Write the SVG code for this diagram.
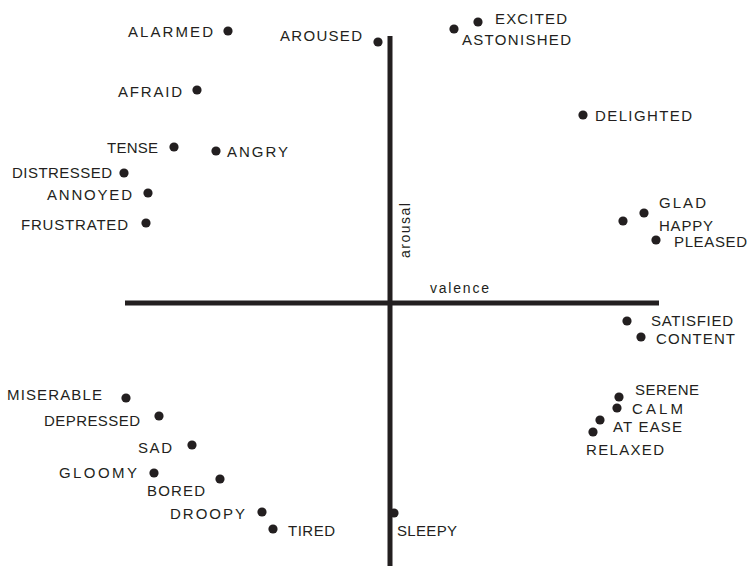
<svg xmlns="http://www.w3.org/2000/svg" width="749" height="566" viewBox="0 0 749 566">
  <style>
    .lbl { font-family: "Liberation Sans", Arial, sans-serif; font-size: 15px; fill: #231f20; }
    .ax-lbl { font-family: "Liberation Sans", Arial, sans-serif; font-size: 14px; fill: #231f20; }
    .dot { fill: #231f20; }
    .axis { stroke: #231f20; stroke-width: 5; fill: none; }
  </style>
  <rect width="749" height="566" fill="#ffffff"/>

  <!-- axes -->
  <g id="axes">
    <line class="axis" x1="390" y1="36" x2="390" y2="566"/>
    <line class="axis" x1="125" y1="303" x2="659" y2="303"/>
    <text class="ax-lbl" x="430" y="293" textLength="59" lengthAdjust="spacing">valence</text>
    <text class="ax-lbl" transform="translate(410 258) rotate(-90)" textLength="55" lengthAdjust="spacing">arousal</text>
  </g>

  <!-- emotion terms -->
  <g id="alarmed"><circle class="dot" cx="228" cy="31" r="4.6"/><text class="lbl" x="128" y="36.5" textLength="85" lengthAdjust="spacing">ALARMED</text></g>
  <g id="aroused"><circle class="dot" cx="378" cy="42" r="4.6"/><text class="lbl" x="280" y="41" textLength="82" lengthAdjust="spacing">AROUSED</text></g>
  <g id="excited"><circle class="dot" cx="478" cy="22" r="4.6"/><text class="lbl" x="495" y="24" textLength="72" lengthAdjust="spacing">EXCITED</text></g>
  <g id="astonished"><circle class="dot" cx="454" cy="29" r="4.6"/><text class="lbl" x="462" y="45" textLength="109" lengthAdjust="spacing">ASTONISHED</text></g>
  <g id="delighted"><circle class="dot" cx="583" cy="115" r="4.6"/><text class="lbl" x="595" y="120.5" textLength="97" lengthAdjust="spacing">DELIGHTED</text></g>
  <g id="afraid"><circle class="dot" cx="197" cy="90" r="4.6"/><text class="lbl" x="118" y="96.5" textLength="64" lengthAdjust="spacing">AFRAID</text></g>
  <g id="tense"><circle class="dot" cx="174" cy="147" r="4.6"/><text class="lbl" x="107" y="152.5" textLength="51" lengthAdjust="spacing">TENSE</text></g>
  <g id="angry"><circle class="dot" cx="216" cy="151" r="4.6"/><text class="lbl" x="227" y="156.5" textLength="61" lengthAdjust="spacing">ANGRY</text></g>
  <g id="distressed"><circle class="dot" cx="124" cy="173" r="4.6"/><text class="lbl" x="12" y="178" textLength="100" lengthAdjust="spacing">DISTRESSED</text></g>
  <g id="annoyed"><circle class="dot" cx="148" cy="193" r="4.6"/><text class="lbl" x="47" y="199.5" textLength="85" lengthAdjust="spacing">ANNOYED</text></g>
  <g id="frustrated"><circle class="dot" cx="146" cy="223" r="4.6"/><text class="lbl" x="21" y="230" textLength="107" lengthAdjust="spacing">FRUSTRATED</text></g>
  <g id="glad"><circle class="dot" cx="644" cy="213" r="4.6"/><text class="lbl" x="659" y="208" textLength="47" lengthAdjust="spacing">GLAD</text></g>
  <g id="happy"><circle class="dot" cx="623" cy="221" r="4.6"/><text class="lbl" x="659" y="231" textLength="54" lengthAdjust="spacing">HAPPY</text></g>
  <g id="pleased"><circle class="dot" cx="656" cy="240" r="4.6"/><text class="lbl" x="674" y="247" textLength="73" lengthAdjust="spacing">PLEASED</text></g>
  <g id="satisfied"><circle class="dot" cx="627" cy="321" r="4.6"/><text class="lbl" x="651" y="325.5" textLength="82" lengthAdjust="spacing">SATISFIED</text></g>
  <g id="content"><circle class="dot" cx="641" cy="337" r="4.6"/><text class="lbl" x="656" y="343.5" textLength="79" lengthAdjust="spacing">CONTENT</text></g>
  <g id="serene"><circle class="dot" cx="619" cy="397" r="4.6"/><text class="lbl" x="635" y="394.5" textLength="64" lengthAdjust="spacing">SERENE</text></g>
  <g id="calm"><circle class="dot" cx="617" cy="408" r="4.6"/><text class="lbl" x="632" y="413.5" textLength="51" lengthAdjust="spacing">CALM</text></g>
  <g id="at-ease"><circle class="dot" cx="600" cy="420" r="4.6"/><text class="lbl" x="613" y="432" textLength="69" lengthAdjust="spacing">AT EASE</text></g>
  <g id="relaxed"><circle class="dot" cx="593" cy="432" r="4.6"/><text class="lbl" x="586" y="454.5" textLength="78" lengthAdjust="spacing">RELAXED</text></g>
  <g id="miserable"><circle class="dot" cx="126" cy="398" r="4.6"/><text class="lbl" x="7" y="399.5" textLength="95" lengthAdjust="spacing">MISERABLE</text></g>
  <g id="depressed"><circle class="dot" cx="159" cy="416" r="4.6"/><text class="lbl" x="44" y="425.5" textLength="96" lengthAdjust="spacing">DEPRESSED</text></g>
  <g id="sad"><circle class="dot" cx="192" cy="445" r="4.6"/><text class="lbl" x="138" y="452.5" textLength="34" lengthAdjust="spacing">SAD</text></g>
  <g id="gloomy"><circle class="dot" cx="154" cy="473" r="4.6"/><text class="lbl" x="59" y="477.5" textLength="78" lengthAdjust="spacing">GLOOMY</text></g>
  <g id="bored"><circle class="dot" cx="220" cy="479" r="4.6"/><text class="lbl" x="147" y="495.5" textLength="58" lengthAdjust="spacing">BORED</text></g>
  <g id="droopy"><circle class="dot" cx="262" cy="512" r="4.6"/><text class="lbl" x="170" y="519" textLength="75" lengthAdjust="spacing">DROOPY</text></g>
  <g id="tired"><circle class="dot" cx="273" cy="529" r="4.6"/><text class="lbl" x="288" y="535.5" textLength="47" lengthAdjust="spacing">TIRED</text></g>
  <g id="sleepy"><circle class="dot" cx="394" cy="513" r="4.6"/><text class="lbl" x="397" y="535.5" textLength="60" lengthAdjust="spacing">SLEEPY</text></g>
</svg>
